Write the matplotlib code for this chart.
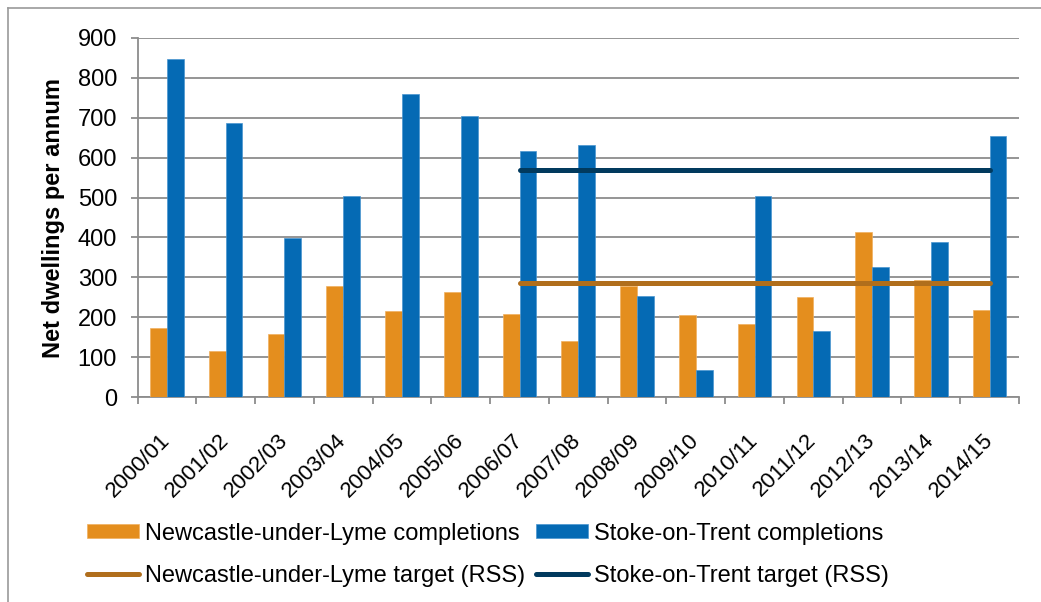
# Net dwellings per annum: Newcastle-under-Lyme vs Stoke-on-Trent

import matplotlib
matplotlib.use('Agg')
import matplotlib.pyplot as plt
from matplotlib.lines import Line2D
import numpy as np

plt.rcParams['font.family'] = ['Liberation Sans', 'DejaVu Sans']

# --- Data ---
years = ['2000/01', '2001/02', '2002/03', '2003/04', '2004/05', '2005/06', '2006/07',
         '2007/08', '2008/09', '2009/10', '2010/11', '2011/12', '2012/13', '2013/14', '2014/15']
newcastle_completions = [173, 116, 159, 279, 216, 264, 208, 141, 279, 207, 183, 251, 414, 294, 219]
stoke_completions = [846, 687, 399, 503, 759, 704, 616, 631, 254, 68, 504, 165, 326, 389, 653]
target_years = years[6:]
newcastle_target = [285] * len(target_years)
stoke_target = [570] * len(target_years)

orange = '#E48E1E'
blue = '#056AB4'
brown = '#B06E1C'
navy = '#013A5E'
grid_col = '#8C8C8C'

fig = plt.figure(figsize=(10.41, 6.02), dpi=100)
ax = fig.add_axes([0.1321, 0.34, 0.8468, 0.5974])

x = np.arange(len(years))
w = 0.286
nb = ax.bar(x - w / 2, newcastle_completions, w, color=orange, edgecolor='#F0B060', linewidth=0.5,
            zorder=3)
sb = ax.bar(x + w / 2, stoke_completions, w, color=blue, edgecolor='#4A95D0', linewidth=0.5,
            zorder=3)

tx = [years.index(y) for y in target_years]
nl, = ax.plot(tx, newcastle_target, color=brown, lw=3.6, solid_capstyle='round', zorder=4)
sl, = ax.plot(tx, stoke_target, color=navy, lw=3.6, solid_capstyle='round', zorder=4)

# axes
ax.set_xlim(-0.5, len(years) - 0.5)
ax.set_ylim(0, 900)
ax.set_yticks(range(0, 901, 100))
ax.yaxis.grid(True, color=grid_col, lw=1.3, zorder=0)
ax.set_axisbelow(True)
for s in ['top', 'right']:
    ax.spines[s].set_visible(False)
for s in ['left', 'bottom']:
    ax.spines[s].set_color(grid_col)
    ax.spines[s].set_linewidth(1.3)

ax.tick_params(axis='y', length=4.7, width=1.3, color=grid_col, pad=10, labelsize=17)
ax.set_xticks(x)
ax.set_xticklabels(years, rotation=45, ha='right', va='center', rotation_mode='anchor', fontsize=16)
ax.tick_params(axis='x', which='major', length=0, pad=29)
ax.set_xticks(np.arange(-0.5, len(years), 1), minor=True)
ax.tick_params(axis='x', which='minor', length=5, width=1.3, color=grid_col)

ax.set_ylabel('Net dwellings per annum', fontsize=17, fontweight='bold', labelpad=9)

# legend: bars on row 1, target lines on row 2
leg_h = [nb, nl, sb, sl]
leg_l = ['Newcastle-under-Lyme completions', 'Newcastle-under-Lyme target (RSS)',
         'Stoke-on-Trent completions', 'Stoke-on-Trent target (RSS)']
fig.legend(leg_h, leg_l, ncol=2, loc='upper left', bbox_to_anchor=(0.084, 0.132),
           frameon=False, fontsize=17, handlelength=2.2, handleheight=0.55, handletextpad=0.25,
           columnspacing=0.45, labelspacing=0.85, borderpad=0, borderaxespad=0)

# chart border
bx, by = 8 / 1041, 1 - 8 / 602
fig.add_artist(Line2D([bx, bx], [0, by], transform=fig.transFigure, color='#9A9A9A', lw=1.2))
fig.add_artist(Line2D([bx, 1], [by, by], transform=fig.transFigure, color='#9A9A9A', lw=1.2))

plt.savefig('out.png', dpi=100)
